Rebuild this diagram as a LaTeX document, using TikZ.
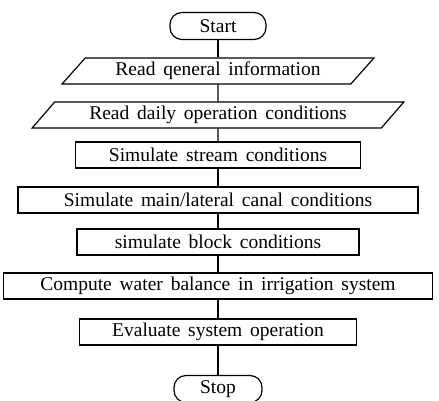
\documentclass[tikz,border=0pt]{standalone}
\usepackage{fontspec}
\setmainfont{Liberation Serif}
\usepackage{tikz}
\usetikzlibrary{shapes, positioning}
\tikzstyle{block} = [draw, fill=white, rectangle, minimum height=26pt, inner sep=0pt]
\tikzstyle{io} = [draw, fill=white, trapezium, trapezium left angle=45, trapezium right angle=135, trapezium stretches=true, minimum height=26pt, inner sep=0pt]
\tikzstyle{term} = [draw, fill=white, rectangle, rounded corners=12pt, minimum height=27pt, inner sep=0pt]

\begin{document}
\begin{tikzpicture}[auto, node distance=44pt, line width=1.2pt, font={\fontsize{19.5}{22}\selectfont\spaceskip=0.4em}]
    \useasboundingbox (0,0) rectangle (439pt,-401pt);
    \node [term, minimum width=96pt] (start) at (218pt,-26pt) {Start};
    \node [io, below of=start, node distance=45pt, minimum width=312pt] (general) {Read qeneral information};
    \node [io, below of=general, minimum width=373pt] (daily) {Read daily operation conditions};
    \node [block, below of=daily, node distance=40pt, minimum width=285pt] (stream) {Simulate stream conditions};
    \node [block, below of=stream, node distance=45pt, minimum width=400pt] (canal) {Simulate main/lateral canal conditions};
    \node [block, below of=canal, node distance=42pt, minimum width=282pt] (blocks) {simulate block conditions};
    \node [block, below of=blocks, minimum width=429pt] (balance) {Compute water balance in irrigation system};
    \node [block, below of=balance, node distance=46pt, minimum width=277pt] (evaluate) {Evaluate system operation};
    \node [term, below of=evaluate, node distance=57pt, minimum width=88pt] (stop) {Stop};
    \draw (start) -- (general);
    \draw (general) -- (daily);
    \draw (daily) -- (stream);
    \draw (stream) -- (canal);
    \draw (canal) -- (blocks);
    \draw (blocks) -- (balance);
    \draw (balance) -- (evaluate);
    \draw (evaluate) -- (stop);
\end{tikzpicture}
\end{document}
